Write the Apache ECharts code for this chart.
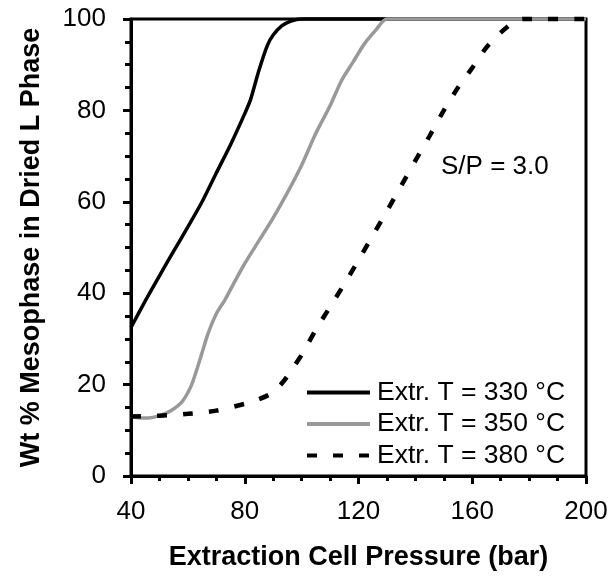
<!DOCTYPE html>
<html>
<head>
<meta charset="utf-8">
<script src="https://cdn.jsdelivr.net/npm/echarts@6/dist/echarts.min.js"></script>
<style>html,body{margin:0;padding:0;background:#fff}#c{width:613px;height:576px}</style>
</head>
<body>
<div id="c"></div>
<script>
// Data (pressure in bar, wt % mesophase)
var seriesNames = ['Extr. T = 330 °C', 'Extr. T = 350 °C', 'Extr. T = 380 °C'];
var t330 = [[40,32.5],[45,38.3],[50,43.8],[55,49.2],[60,54.5],[65,60],[70,66.3],[75,72.5],[80,79.3],[82,82.3],[85,88.8],[88,94.3],[90,96.5],[93,98.5],[96,99.5],[100,100],[200,100]];
var t350 = [[40,13],[43,12.7],[46,12.7],[50,13.2],[54,14.3],[58,16.3],[61,19.5],[63,23],[65,27],[67,31],[70,35.5],[73,38.5],[76,42],[80,46.5],[85,51.5],[90,56.5],[95,62],[100,68],[105,75],[110,81],[114,86.5],[118,90.5],[122,94.5],[126,97.5],[130,100],[200,100]];
var t380 = [[40,13],[50,13.2],[60,13.6],[70,14.3],[80,15.8],[85,16.8],[90,18.3],[94,21],[97,23.7],[100,26.5],[105,32],[110,37],[115,42],[120,47.2],[125,52.6],[130,58],[135,63.5],[140,69],[145,74.4],[150,80],[155,85],[160,89.3],[165,93.8],[170,97],[175,99.5],[178,100],[200,100]];
var xTicks = [40, 80, 120, 160, 200];
var yTicks = [0, 20, 40, 60, 80, 100];
var annotation = 'S/P = 3.0';
var xTitle = 'Extraction Cell Pressure (bar)';
var yTitle = 'Wt % Mesophase in Dried L Phase';

var chart = echarts.init(document.getElementById('c'), null, {renderer: 'canvas'});
var font = 'Arial, "Liberation Sans", sans-serif';
function mkSeries(name, data, color, width, type) {
  return {
    name: name, type: 'line', data: data, symbol: 'none', clip: false,
    smooth: 0.25,
    lineStyle: {color: color, width: width, type: type},
    itemStyle: {color: color},
    emphasis: {disabled: true}
  };
}
chart.setOption({
  animation: false,
  backgroundColor: '#fff',
  textStyle: {fontFamily: font},
  grid: {left: 131, right: 27, top: 19, bottom: 97, show: true, borderColor: '#000', borderWidth: 3},
  xAxis: {
    type: 'value', min: xTicks[0], max: xTicks[xTicks.length-1], interval: 40,
    name: xTitle, nameLocation: 'middle', nameGap: 68,
    nameTextStyle: {fontSize: 27, fontWeight: 'bold', color: '#000', fontFamily: font},
    axisLine: {lineStyle: {color: '#000', width: 3}},
    axisTick: {show: true, inside: false, length: 8, lineStyle: {color: '#000', width: 3}},
    minorTick: {show: true, splitNumber: 4, length: 5, lineStyle: {color: '#000', width: 3}},
    axisLabel: {fontSize: 26, color: '#000', margin: 23, fontFamily: font},
    splitLine: {show: false}
  },
  yAxis: {
    type: 'value', min: yTicks[0], max: yTicks[yTicks.length-1], interval: 20,
    name: yTitle, nameLocation: 'middle', nameGap: 86, nameRotate: 90,
    nameTextStyle: {fontSize: 27, fontWeight: 'bold', color: '#000', fontFamily: font},
    axisLine: {lineStyle: {color: '#000', width: 3}},
    axisTick: {show: true, inside: false, length: 8, lineStyle: {color: '#000', width: 3}},
    minorTick: {show: true, splitNumber: 4, length: 6, lineStyle: {color: '#000', width: 3}},
    axisLabel: {fontSize: 26, color: '#000', margin: 25, fontFamily: font},
    splitLine: {show: false}
  },
  legend: {
    left: 300, top: 374, orient: 'vertical',
    itemWidth: 63, itemHeight: 12, itemGap: 4.5,
    data: seriesNames,
    itemStyle: {opacity: 0},
    lineStyle: {width: 4},
    textStyle: {fontSize: 26.5, color: '#000', lineHeight: 25, fontFamily: font, padding: [0,0,0,2]},
    selectedMode: false
  },
  graphic: [{
    type: 'text', left: 441, top: 154,
    style: {text: annotation, fontSize: 26, fill: '#000', fontFamily: font}
  }],
  series: [
    mkSeries(seriesNames[0], t330, '#000000', 3.5, 'solid'),
    mkSeries(seriesNames[1], t350, '#999999', 3.5, 'solid'),
    mkSeries(seriesNames[2], t380, '#000000', 4.5, [10, 16])
  ]
});
</script>
</body>
</html>
